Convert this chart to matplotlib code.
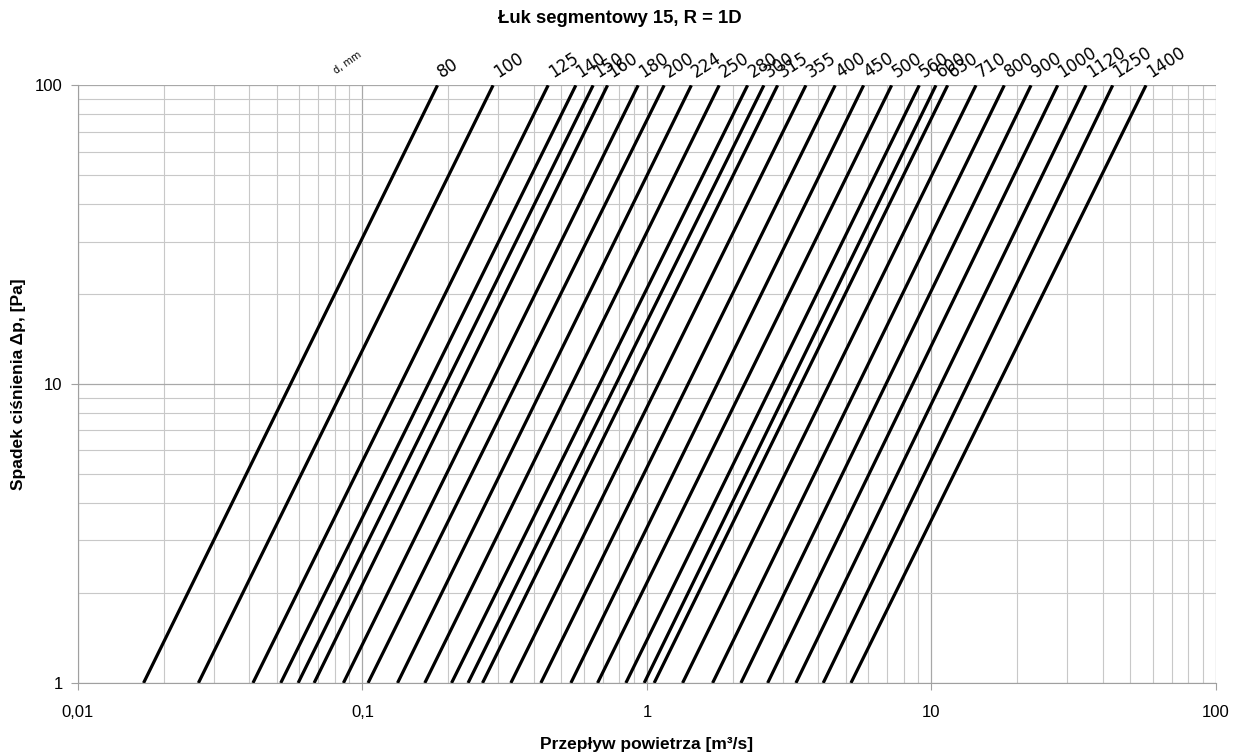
import matplotlib
matplotlib.use("Agg")
import matplotlib.pyplot as plt
from matplotlib.ticker import FixedLocator, NullFormatter

plt.rcParams['font.family'] = ['Liberation Sans', 'DejaVu Sans']

# duct diameters, mm
diameters = [80, 100, 125, 140, 150, 160, 180, 200, 224, 250, 280, 300, 315, 355,
             400, 450, 500, 560, 600, 630, 710, 800, 900, 1000, 1120, 1250, 1400]

# air flow [m3/s] at dp = 1 Pa and at dp = 100 Pa for every diameter
q_at_1pa = [0.0170, 0.0265, 0.0412, 0.0516, 0.0594, 0.0676, 0.0857, 0.1046, 0.1328,
            0.1656, 0.2056, 0.2350, 0.2642, 0.3323, 0.4236, 0.5401, 0.6705, 0.8430,
            0.9777, 1.060, 1.334, 1.701, 2.139, 2.656, 3.339, 4.164, 5.212]
q_at_100pa = [0.1835, 0.2878, 0.4494, 0.5623, 0.6467, 0.7269, 0.931, 1.149, 1.432,
              1.794, 2.258, 2.576, 2.879, 3.620, 4.588, 5.775, 7.244, 9.06,
              10.37, 11.40, 14.34, 18.03, 22.39, 27.78, 34.93, 43.36, 56.78]
dp_range = [1, 100]

x_ticks = [0.01, 0.1, 1, 10, 100]
x_ticklabels = ["0,01", "0,1", "1", "10", "100"]
y_ticks = [1, 10, 100]
y_ticklabels = ["1", "10", "100"]

fig = plt.figure(figsize=(12.4, 7.54), dpi=100)
ax = fig.add_axes([0.0629, 0.0942, 0.9177, 0.7927])
ax.set_xscale('log')
ax.set_yscale('log')
ax.set_xlim(0.01, 100)
ax.set_ylim(1, 100)

# grid: decades darker, intermediate values lighter
ax.grid(True, which='major', color='#a8a8a8', linewidth=0.9)
ax.grid(True, which='minor', color='#c8c8c8', linewidth=0.8)
ax.set_axisbelow(True)

for d, q1, q2 in zip(diameters, q_at_1pa, q_at_100pa):
    ax.plot([q1, q2], dp_range, color='black', linewidth=2.3, solid_capstyle='butt')
    ax.annotate(str(d), xy=(q2, dp_range[1]), xytext=(5, 3), textcoords='offset points',
                rotation=33, rotation_mode='anchor', ha='left', va='bottom',
                fontsize=12, family='DejaVu Sans', annotation_clip=False)

ax.annotate("d, mm", xy=(0.082, 100), xytext=(0, 7), textcoords='offset points',
            rotation=35, rotation_mode='anchor', ha='left', va='bottom',
            fontsize=7, family='DejaVu Sans', annotation_clip=False)

ax.xaxis.set_major_locator(FixedLocator(x_ticks))
ax.set_xticklabels(x_ticklabels)
ax.yaxis.set_major_locator(FixedLocator(y_ticks))
ax.set_yticklabels(y_ticklabels)
ax.xaxis.set_minor_formatter(NullFormatter())
ax.yaxis.set_minor_formatter(NullFormatter())
ax.tick_params(which='major', length=5, color='#a0a0a0', labelsize=12)
ax.tick_params(axis='x', pad=11)
ax.tick_params(axis='y', pad=6)
ax.tick_params(which='minor', length=0)

for side in ['top', 'right']:
    ax.spines[side].set_visible(False)
for side in ['left', 'bottom']:
    ax.spines[side].set_color('#a0a0a0')

ax.set_xlabel("Przepływ powietrza [m³/s]", fontsize=12.5, fontweight='bold', va='center')
ax.xaxis.set_label_coords(0.5, -0.1037)
ax.set_ylabel("Spadek ciśnienia Δp, [Pa]", fontsize=12.5, fontweight='bold', va='center')
ax.yaxis.set_label_coords(-0.0527, 0.5)
fig.text(0.5, 0.976, "Łuk segmentowy 15, R = 1D", ha='center', va='center',
         fontsize=13.3, fontweight='bold')

fig.savefig("out.png", dpi=100)
